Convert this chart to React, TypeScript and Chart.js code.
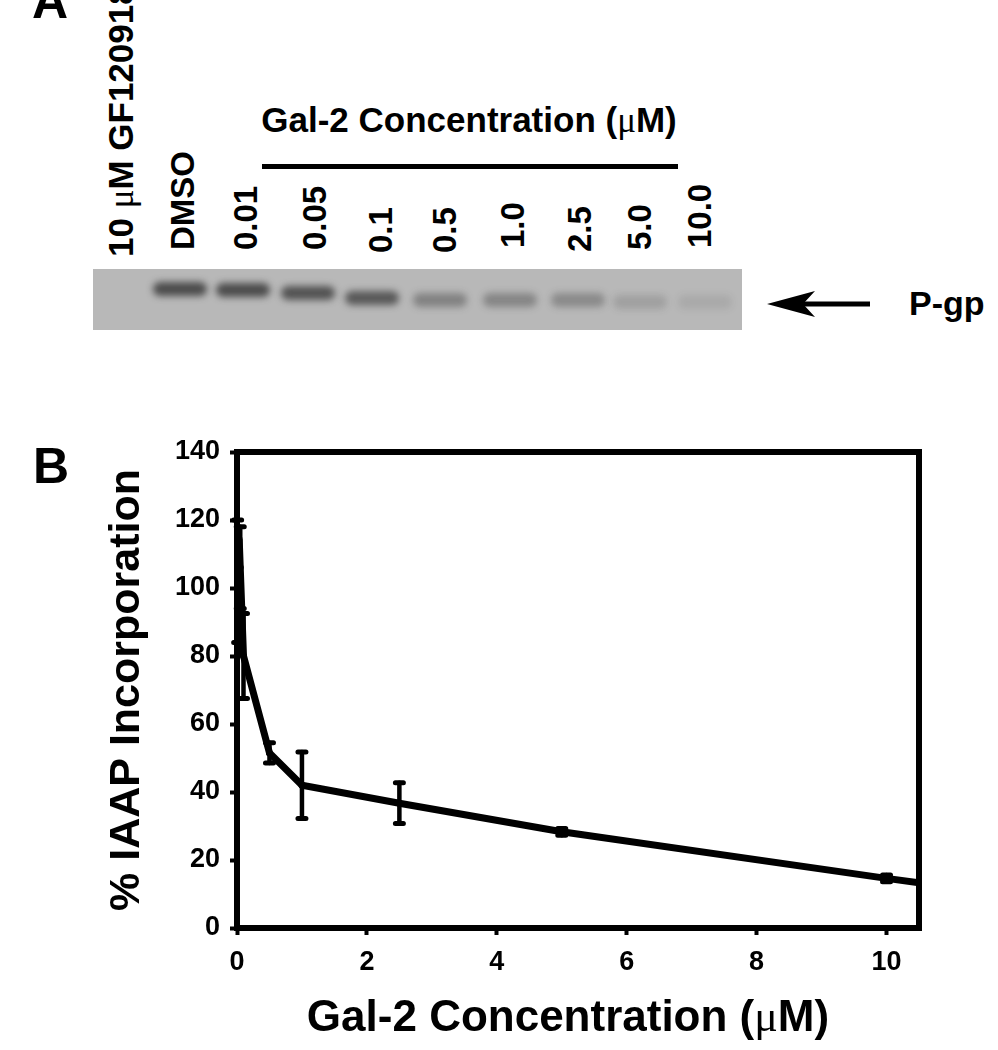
import React, { useEffect, useRef } from "react";
import { Chart, registerables } from "chart.js";
Chart.register(...registerables);

// ---- Panel B data ----
const concentrations = [0.01, 0.05, 0.1, 0.5, 1.0, 2.5, 5.0, 10.0, 10.5];
const incorporation = [102, 106, 80, 51.5, 42, 36.7, 28.3, 14.6, 13.3];
const errors: (number | null)[] = [18, 12, 12.5, 3, 9.8, 6, 1, 1, null];
const xTickValues = [0, 2, 4, 6, 8, 10];
const yTickValues = [0, 20, 40, 60, 80, 100, 120, 140];
const xTitleParts = ["Gal-2 Concentration (", "\u03bc", "M)"];
const yTitle = "% IAAP Incorporation";

// ---- Panel A data ----
const laneLabels = ["10 \u03bcM GF120918", "DMSO", "0.01", "0.05", "0.1", "0.5", "1.0", "2.5", "5.0", "10.0"];
const bandIntensity = [0, 0.9, 0.9, 0.85, 0.8, 0.45, 0.42, 0.38, 0.2, 0.12];

// ---- layout (style only) ----
const labelLeft = [104, 166, 229, 298, 364, 428, 496, 563, 623, 683];
const labelBottom = [257, 250, 250, 250, 253, 253, 248, 252, 250, 248];
const laneCenter = [123, 180, 243, 308, 372, 440, 510, 578, 640, 705];
const bandY = [300, 289, 290, 293, 298, 300, 300, 300, 302, 302];

const FONT = '"Liberation Sans", Arial, sans-serif';
const SERIF = '"Liberation Serif", serif';

function withMu(text: string) {
  const parts = text.split("\u03bc");
  const out: any[] = [];
  parts.forEach((p, i) => {
    if (i > 0)
      out.push(
        <span key={"m" + i} style={{ fontFamily: SERIF, fontWeight: "normal" }}>
          {"\u03bc"}
        </span>
      );
    out.push(<React.Fragment key={"t" + i}>{p}</React.Fragment>);
  });
  return out;
}

const errorBarPlugin = {
  id: "errorBars",
  afterDatasetsDraw(chart: any) {
    const { ctx, scales } = chart;
    const x = scales.x;
    const y = scales.y;
    ctx.save();
    ctx.strokeStyle = "#000";
    ctx.lineCap = "round";
    concentrations.forEach((c, i) => {
      const e = errors[i];
      if (e == null) return;
      const px = x.getPixelForValue(c);
      const top = y.getPixelForValue(incorporation[i] + e);
      const bot = y.getPixelForValue(incorporation[i] - e);
      ctx.lineWidth = 4.5;
      ctx.beginPath();
      ctx.moveTo(px, top);
      ctx.lineTo(px, bot);
      ctx.stroke();
      ctx.lineWidth = 5;
      ctx.beginPath();
      ctx.moveTo(px - 4, top);
      ctx.lineTo(px + 4, top);
      ctx.moveTo(px - 4, bot);
      ctx.lineTo(px + 4, bot);
      ctx.stroke();
    });
    ctx.restore();
  },
};

const framePlugin = {
  id: "frame",
  afterDraw(chart: any) {
    const { ctx, chartArea } = chart;
    ctx.save();
    ctx.strokeStyle = "#000";
    ctx.lineWidth = 6;
    ctx.lineCap = "square";
    ctx.beginPath();
    ctx.moveTo(chartArea.left, chartArea.top);
    ctx.lineTo(chartArea.right, chartArea.top);
    ctx.lineTo(chartArea.right, chartArea.bottom);
    ctx.stroke();

    // x-axis title with a serif mu, as in the figure
    const sans = `bold 44px ${FONT}`;
    const serif = `normal 44px ${SERIF}`;
    const fonts = [sans, serif, sans];
    const widths = xTitleParts.map((p, i) => {
      ctx.font = fonts[i];
      return ctx.measureText(p).width;
    });
    const total = widths.reduce((a, b) => a + b, 0);
    let xx = 568 - total / 2;
    const baseline = chart.height - 19;
    ctx.fillStyle = "#000";
    ctx.textBaseline = "alphabetic";
    ctx.textAlign = "left";
    xTitleParts.forEach((p, i) => {
      ctx.font = fonts[i];
      ctx.fillText(p, xx, baseline);
      xx += widths[i];
    });
    ctx.restore();
  },
};

function ChartB() {
  const ref = useRef<HTMLCanvasElement>(null);
  useEffect(() => {
    const canvas = ref.current!;
    const chart = new Chart(canvas, {
      type: "line",
      data: {
        datasets: [
          {
            data: concentrations.map((c, i) => ({ x: c, y: incorporation[i] })),
            borderColor: "#000",
            backgroundColor: "#000",
            borderWidth: 7,
            tension: 0,
            pointRadius: concentrations.map((_, i) => (errors[i] == null ? 0 : 3.5)),
            pointBorderWidth: 0,
            fill: false,
          },
        ],
      },
      options: {
        responsive: false,
        animation: false,
        layout: { padding: { top: 52, right: 79, left: 0, bottom: 0 } },
        plugins: { legend: { display: false }, tooltip: { enabled: false } },
        scales: {
          x: {
            type: "linear",
            min: 0,
            max: 10.5,
            afterBuildTicks: (scale: any) => {
              scale.ticks = xTickValues.map((v) => ({ value: v }));
            },
            afterFit: (scale: any) => {
              scale.height = 122;
            },
            grid: { drawOnChartArea: false, drawTicks: true, tickLength: 7, tickWidth: 4, color: "#000" },
            border: { display: true, color: "#000", width: 6 },
            ticks: {
              color: "#000",
              padding: 11,
              font: { family: FONT, size: 27, weight: "bold" },
              callback: (v: any) => String(v),
            },
            title: { display: false },
          },
          y: {
            type: "linear",
            min: 0,
            max: 140,
            afterBuildTicks: (scale: any) => {
              scale.ticks = yTickValues.map((v) => ({ value: v }));
            },
            afterFit: (scale: any) => {
              scale.width = 237;
            },
            grid: { drawOnChartArea: false, drawTicks: true, tickLength: 7, tickWidth: 4, color: "#000" },
            border: { display: true, color: "#000", width: 6 },
            ticks: {
              color: "#000",
              padding: 10,
              font: { family: FONT, size: 27, weight: "bold" },
            },
            title: {
              display: true,
              text: yTitle,
              color: "#000",
              font: { family: FONT, size: 43, weight: "bold" },
              padding: { top: 101, bottom: 0 },
            },
          },
        },
      } as any,
      plugins: [errorBarPlugin, framePlugin],
    });
    return () => chart.destroy();
  }, []);
  return (
    <canvas
      ref={ref}
      width={998}
      height={650}
      style={{ position: "absolute", left: 0, top: 400, width: 998, height: 650, display: "block" }}
    />
  );
}

export default function App() {
  useEffect(() => {
    document.body.style.margin = "0";
  }, []);
  return (
    <div
      style={{
        position: "relative",
        width: 998,
        height: 1050,
        background: "#fff",
        overflow: "hidden",
        fontFamily: FONT,
        fontWeight: "bold",
        color: "#000",
      }}
    >
      {/* Panel A */}
      <div style={{ position: "absolute", left: 32, top: -24, fontSize: 50, lineHeight: "50px" }}>A</div>
      {laneLabels.map((t, i) => (
        <div
          key={t}
          style={{
            position: "absolute",
            left: labelLeft[i],
            top: labelBottom[i],
            transform: "rotate(-90deg)",
            transformOrigin: "0 0",
            fontSize: i === 0 ? 35 : 33,
            lineHeight: "33px",
            whiteSpace: "nowrap",
          }}
        >
          {withMu(t)}
        </div>
      ))}
      <div
        style={{
          position: "absolute",
          left: 469,
          top: 102,
          transform: "translateX(-50%)",
          fontSize: 35,
          lineHeight: "35px",
          whiteSpace: "nowrap",
        }}
      >
        {withMu("Gal-2 Concentration (\u03bcM)")}
      </div>
      <div style={{ position: "absolute", left: 262, top: 164, width: 416, height: 5, background: "#000" }} />
      {/* gel */}
      <div
        style={{
          position: "absolute",
          left: 93,
          top: 269,
          width: 649,
          height: 61,
          background: "#b8b8b8",
          overflow: "hidden",
        }}
      >
        {laneCenter.map((c, i) =>
          bandIntensity[i] > 0 ? (
            <div
              key={i}
              style={{
                position: "absolute",
                left: c - 93 - 27,
                top: bandY[i] - 269 - 7,
                width: 54,
                height: 14,
                borderRadius: 7,
                background: `rgba(35,35,35,${bandIntensity[i] * 0.8})`,
                filter: "blur(3.5px)",
              }}
            />
          ) : null
        )}
      </div>
      <svg style={{ position: "absolute", left: 0, top: 0 }} width={998} height={400}>
        <path d="M767 304 L815 291 L803 304 L815 317 Z" fill="#000" />
        <rect x={803} y={301.5} width={67} height={5} fill="#000" />
      </svg>
      <div style={{ position: "absolute", left: 909, top: 286, fontSize: 34, lineHeight: "34px" }}>P-gp</div>

      {/* Panel B */}
      <div style={{ position: "absolute", left: 33, top: 441, fontSize: 50, lineHeight: "50px" }}>B</div>
      <ChartB />
    </div>
  );
}
